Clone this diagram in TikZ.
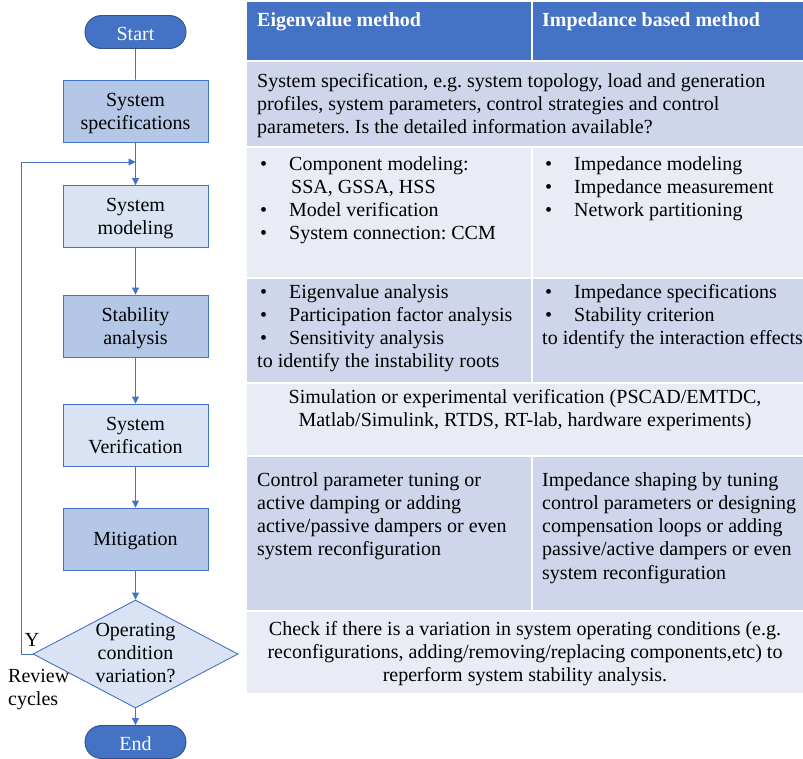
\documentclass[tikz,border=0pt]{standalone}
\usepackage{fontspec}
\setmainfont{Liberation Serif}
\usetikzlibrary{shapes.geometric,shapes.misc,arrows.meta}
\definecolor{hdr}{HTML}{4472C4}
\definecolor{rowdark}{HTML}{CFD5EA}
\definecolor{rowlight}{HTML}{E9EBF5}
\definecolor{boxdark}{HTML}{B4C7E7}
\definecolor{boxlight}{HTML}{DAE3F3}
\definecolor{edgeblue}{HTML}{4472C4}
\definecolor{termedge}{HTML}{2F528F}
\newcommand\cellfont{\fontsize{20}{23.2}\selectfont}
\newcommand\cbul{\makebox[32pt][l]{\hspace{3pt}\textbullet}}
\frenchspacing
\begin{document}
\begin{tikzpicture}[x=1pt,y=-1pt,
  cell/.style={anchor=north west, inner sep=0pt, align=left, font=\cellfont},
  ccell/.style={anchor=north, inner sep=0pt, align=center, font=\cellfont},
  hdrtext/.style={anchor=north west, inner sep=0pt, font=\cellfont\bfseries, text=white},
  flowbox/.style={draw=edgeblue, line width=0.9pt, minimum width=145pt, minimum height=62pt, inner sep=0pt, align=center, font=\cellfont, text depth=0pt},
  term/.style={rounded rectangle, draw=termedge, line width=0.9pt, fill=hdr, text=white, minimum width=101pt, minimum height=33pt, inner sep=0pt, font=\cellfont, text height=17pt, text depth=0pt},
  decision/.style={diamond, draw=edgeblue, line width=0.9pt, fill=boxlight, minimum width=205pt, minimum height=108pt, inner sep=0pt},
  conn/.style={draw=edgeblue, line width=0.9pt},
  arr/.style={-{Triangle[length=7pt,width=7pt]}},
  lbl/.style={inner sep=0pt, font=\cellfont}
]
\useasboundingbox (0,0) rectangle (803,758);
\fill[white] (0,0) rectangle (803,758);

% table cells
\fill[hdr] (247,2) rectangle (531,60);
\fill[hdr] (533,2) rectangle (803,60);
\fill[rowdark] (247,62) rectangle (803,146);
\fill[rowlight] (247,148) rectangle (531,277);
\fill[rowlight] (533,148) rectangle (803,277);
\fill[rowdark] (247,279) rectangle (531,382);
\fill[rowdark] (533,279) rectangle (803,382);
\fill[rowlight] (247,384) rectangle (803,455);
\fill[rowdark] (247,457) rectangle (531,610);
\fill[rowdark] (533,457) rectangle (803,610);
\fill[rowlight] (247,612) rectangle (803,693);

% table text
\node[hdrtext] (h1) at (257,9.8) {\strut Eigenvalue method};
\node[hdrtext] (h2) at (542,9.8) {\strut Impedance based method};
\node[cell] (r1) at (257,70.8) {\strut System specification, e.g. system topology, load and generation\\profiles, system parameters, control strategies and control\\parameters. Is the detailed information available?};
\node[cell] (r2l) at (257,153.8) {\strut\cbul Component modeling:\\\hspace*{34pt}SSA, GSSA, HSS\\\cbul Model verification\\\cbul System connection: CCM};
\node[cell] (r2r) at (542,153.8) {\strut\cbul Impedance modeling\\\cbul Impedance measurement\\\cbul Network partitioning};
\node[cell] (r3l) at (257,281.8) {\strut\cbul Eigenvalue analysis\\\cbul Participation factor analysis\\\cbul Sensitivity analysis\\to identify the instability roots};
\node[cell] (r3r) at (542,281.8) {\strut\cbul Impedance specifications\\\cbul Stability criterion\\to identify the interaction effects};
\node[ccell] (r4) at (525,386.8) {\strut Simulation or experimental verification (PSCAD/EMTDC,\\Matlab/Simulink, RTDS, RT-lab, hardware experiments)};
\node[cell] (r5l) at (257,469.8) {\strut Control parameter tuning or\\active damping or adding\\active/passive dampers or even\\system reconfiguration};
\node[cell] (r5r) at (542,469.8) {\strut Impedance shaping by tuning\\control parameters or designing\\compensation loops or adding\\passive/active dampers or even\\system reconfiguration};
\node[ccell] (r6) at (525,618.8) {\strut Check if there is a variation in system operating conditions (e.g.\\reconfigurations, adding/removing/replacing components,etc) to\\reperform system stability analysis.};

% flowchart
\node[term] (start) at (135.5,32) {Start};
\node[flowbox, fill=boxdark] (spec) at (135.5,111) {System\\specifications};
\node[flowbox, fill=boxlight] (modl) at (135.5,216.5) {System\\modeling};
\node[flowbox, fill=boxdark] (stab) at (135.5,326) {Stability\\analysis};
\node[flowbox, fill=boxlight] (verif) at (135.5,435) {System\\Verification};
\node[flowbox, fill=boxdark] (mitig) at (135.5,539) {Mitigation};
\node[decision] (dia) at (135.5,654) {};
\node[lbl, align=center] (diatext) at (135.5,653) {Operating\\condition\\variation?};
\node[term] (end) at (135.5,742) {End};

\coordinate (merge) at (135.5,162);
\coordinate (loopb) at (21,654);
\coordinate (loopt) at (21,162);

\draw[conn] (start) -- (spec);
\draw[conn,arr] (spec) -- (modl);
\draw[conn,arr] (modl) -- (stab);
\draw[conn,arr] (stab) -- (verif);
\draw[conn,arr] (verif) -- (mitig);
\draw[conn,arr] (mitig) -- (dia);
\draw[conn,arr] (dia) -- (end);
\draw[conn,arr] (dia.west) -- (loopb) -- (loopt) -- (merge);

\node[lbl] (ylab) at (32,640) {Y};
\node[lbl, anchor=north west, align=left] (rev) at (8,666) {\strut Review\\cycles};
\end{tikzpicture}
\end{document}
